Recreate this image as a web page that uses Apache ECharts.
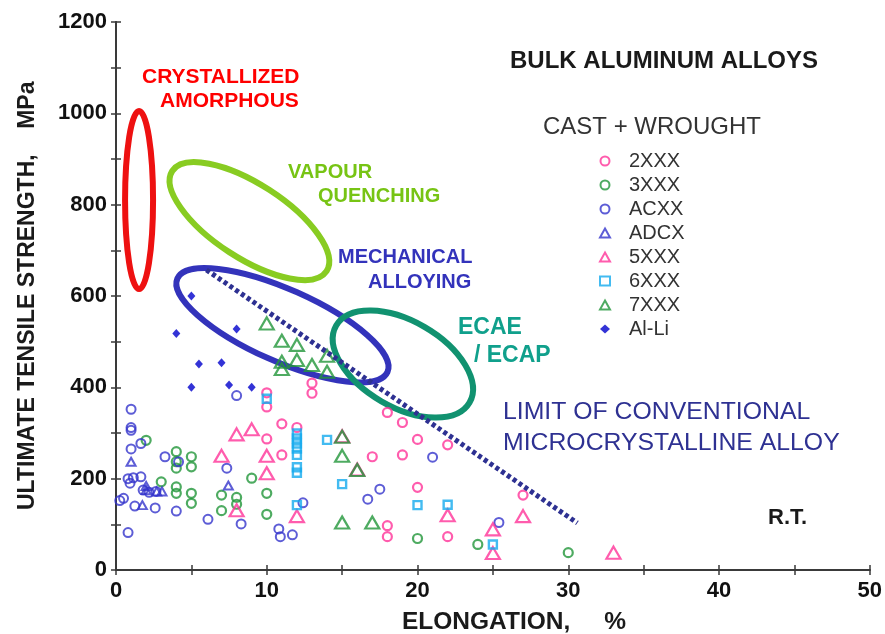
<!DOCTYPE html>
<html><head><meta charset="utf-8">
<script src="https://cdn.jsdelivr.net/npm/echarts@6/dist/echarts.min.js"></script>
<style>html,body{margin:0;padding:0;background:#fff}#c{width:885px;height:634px}</style>
</head><body><div id="c"></div>
<script>
// ---- data (elongation %, UTS MPa) ----
const seriesNames = ['2XXX', '3XXX', 'ACXX', 'ADCX', '5XXX', '6XXX', '7XXX', 'Al-Li'];
const xRange = [0, 50];
const yRange = [0, 1200];

const d2XXX = [[10,388],[10,357],[10,287],[11,320],[11,252],[12,312],[13,409],[13,387],[17,248],[18,345],[19,323],[19,252],[20,286],[20,181],[22,274],[18,97],[18,73],[22,73],[27,164]];
const d3XXX = [[2,284],[3,193],[4,259],[4,237],[4,223],[4,182],[4,168],[5,248],[5,226],[5,168],[5,146],[7,164],[7,130],[8,159],[8,144],[9,201],[10,168],[10,122],[20,69],[24,56],[30,38]];
const dACXX = [[0.25,152],[0.5,157],[0.8,82],[0.8,200],[0.93,190],[1,352],[1,312],[1,306],[1,265],[1.15,202],[1.25,140],[1.65,204],[1.65,277],[1.8,175],[2.2,170],[2.65,172],[2.6,136],[3.25,248],[4,129],[4.15,237],[6.1,111],[7.35,223],[8,382],[8.3,101],[10.8,90],[10.9,73],[11.7,77],[12.4,147],[16.7,155],[17.5,177],[21,247],[25.4,104]];
const dADCX = [[1,237],[2,184],[2,175],[1.75,142],[2.7,172],[3.05,172],[7.45,185]];
const d5XXX = [[7,250],[8,297],[9,308],[10,250],[10,212],[8,131],[12,118],[15,293],[16,220],[22,120],[25,89],[25,37],[27,118],[33,38]];
const d6XXX = [[10,375],[12,299],[12,288],[12,277],[12,266],[12,252],[12,225],[12,213],[12,142],[14,285],[15,188],[20,142],[22,143],[25,56]];
const d7XXX = [[10,540],[11,502],[12,493],[11,456],[12,460],[13,449],[14,469],[14,434],[11,440],[15,292],[15,250],[16,219],[15,104],[17,104]];
const dAlLi = [[4,518],[5,600],[5,400],[5.5,451],[7,454],[7.5,405],[8,528],[9,400]];

// limit of conventional microcrystalline alloy (end points)
const limitLine = [[6.0,657],[30.6,103]];
// processing-region centres: crystallized amorphous, vapour quenching, mechanical alloying, ECAE/ECAP
const regionCenters = [[1.53,810],[8.85,764],[11.04,536],[19.03,451]];

// ---- styles ----
const regionShapes = [
  {rx:14, ry:89, rot:0,  color:'#ee1111'},
  {rx:92, ry:37, rot:33, color:'#88cc22'},
  {rx:115,ry:36, rot:24, color:'#3333bb'},
  {rx:77, ry:43, rot:30, color:'#119270'}
];
const PINK='#ff3399', GREEN='#22963a', BLUE='#3535cc', CYAN='#14aaee', NAVY='#2e3192';
const FONT='"Liberation Sans", Arial, sans-serif';

function hollow(name, data, symbol, size, color, bw){
  return {name, type:'scatter', data, symbol, symbolSize:size, xAxisIndex:0, yAxisIndex:0,
    itemStyle:{color:'rgba(0,0,0,0)', borderColor:color, borderWidth:bw}, emphasis:{disabled:true}, z:3};
}
function txt(x, y, text, font, fill, rot){
  return {type:'text', x, y, rotation:rot||0, silent:true,
    style:{text, font, fill, align:'left', verticalAlign:'middle'}};
}

const chart = echarts.init(document.getElementById('c'), null, {renderer:'canvas'});
const axisLineStyle = {lineStyle:{color:'#3a3a3a', width:2}};
const tickStyle = {color:'#3a3a3a', width:1.5};
chart.setOption({
  animation:false,
  backgroundColor:'#fff',
  grid:{left:116, right:15, top:22, bottom:64, containLabel:false},
  xAxis:[
    {type:'value', min:xRange[0], max:xRange[1], interval:10, position:'bottom',
     axisLine:axisLineStyle, splitLine:{show:false},
     axisTick:{inside:true, length:5, lineStyle:tickStyle},
     minorTick:{show:true, splitNumber:2, length:5, lineStyle:tickStyle},
     axisLabel:{fontFamily:FONT, fontWeight:'bold', fontSize:22, color:'#111', margin:10,
       formatter:function(v){return String(v);}}},
    {type:'value', min:xRange[0], max:xRange[1], interval:5, position:'top',
     axisLine:axisLineStyle, splitLine:{show:false}, axisLabel:{show:false},
     axisTick:{inside:true, length:5, lineStyle:tickStyle}}
  ],
  yAxis:[
    {type:'value', min:yRange[0], max:yRange[1], interval:200, position:'left',
     axisLine:axisLineStyle, splitLine:{show:false},
     axisTick:{inside:true, length:5, lineStyle:tickStyle},
     minorTick:{show:true, splitNumber:2, length:5, lineStyle:tickStyle},
     axisLabel:{fontFamily:FONT, fontWeight:'bold', fontSize:22, color:'#111', margin:9,
       formatter:function(v){return String(v);}}},
    {type:'value', min:yRange[0], max:yRange[1], interval:100, position:'right',
     axisLine:axisLineStyle, splitLine:{show:false}, axisLabel:{show:false},
     axisTick:{inside:true, length:5, lineStyle:tickStyle}}
  ],
  legend:{
    data:seriesNames, orient:'vertical', left:599, top:151, padding:0,
    itemWidth:10, itemHeight:9, itemGap:4, selectedMode:false,
    textStyle:{fontFamily:FONT, fontSize:20, color:'#333', padding:[0,0,0,14]}
  },
  graphic:[
    txt(510, 61, 'BULK ALUMINUM ALLOYS', 'bold 24px '+FONT, '#1a1a1a'),
    txt(543, 127, 'CAST + WROUGHT', '24px '+FONT, '#333'),
    txt(142, 77, 'CRYSTALLIZED', 'bold 21px '+FONT, '#ff0000'),
    txt(160, 101, 'AMORPHOUS', 'bold 21px '+FONT, '#ff0000'),
    txt(288, 172, 'VAPOUR', 'bold 20px '+FONT, '#77c414'),
    txt(318, 196, 'QUENCHING', 'bold 20px '+FONT, '#77c414'),
    txt(338, 257, 'MECHANICAL', 'bold 20px '+FONT, '#3333bb'),
    txt(368, 282, 'ALLOYING', 'bold 20px '+FONT, '#3333bb'),
    txt(458, 328, 'ECAE', 'bold 23px '+FONT, '#10a08c'),
    txt(474, 356, '/ ECAP', 'bold 23px '+FONT, '#10a08c'),
    txt(503, 412, 'LIMIT OF CONVENTIONAL', '24.8px '+FONT, NAVY),
    txt(503, 443, 'MICROCRYSTALLINE ALLOY', '24.8px '+FONT, NAVY),
    txt(768, 518, 'R.T.', 'bold 22px '+FONT, '#1a1a1a'),
    txt(402, 622, 'ELONGATION,     %', 'bold 24.5px '+FONT, '#1a1a1a'),
    txt(28, 510, 'ULTIMATE TENSILE STRENGTH,    MPa', 'bold 23px '+FONT, '#1a1a1a', Math.PI/2)
  ],
  series:[
    {name:'regions', type:'custom', data:regionCenters, z:2, silent:true, clip:false,
     renderItem:function(params, api){
       const c = api.coord([api.value(0), api.value(1)]);
       const s = regionShapes[params.dataIndex];
       return {type:'ellipse', x:c[0], y:c[1], rotation:-s.rot*Math.PI/180,
         shape:{cx:0, cy:0, rx:s.rx, ry:s.ry},
         style:{fill:'none', stroke:s.color, lineWidth:6}};
     }},
    {name:'limit', type:'line', data:limitLine, symbol:'none', silent:true, z:4,
     lineStyle:{color:NAVY, width:5, type:[4,3], cap:'butt'}},
    hollow('2XXX', d2XXX, 'circle', 9, PINK, 2.2),
    hollow('3XXX', d3XXX, 'circle', 9, GREEN, 2.2),
    hollow('ACXX', dACXX, 'circle', 9, BLUE, 2),
    hollow('ADCX', dADCX, 'triangle', [9,8], BLUE, 2),
    hollow('5XXX', d5XXX, 'triangle', [14,12], PINK, 2.2),
    hollow('6XXX', d6XXX, 'rect', 8, CYAN, 2.4),
    hollow('7XXX', d7XXX, 'triangle', [14,12], GREEN, 2.2),
    {name:'Al-Li', type:'scatter', data:dAlLi, symbol:'diamond', symbolSize:[8,9],
     itemStyle:{color:'#0000cc'}, emphasis:{disabled:true}, z:3}
  ]
});
</script></body></html>
